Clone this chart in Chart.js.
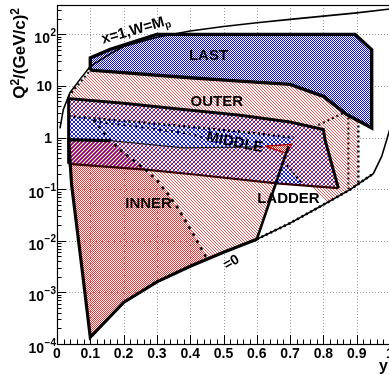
<!DOCTYPE html>
<html><head><meta charset="utf-8">
<script src="https://cdn.jsdelivr.net/npm/chart.js@4.4.1/dist/chart.umd.min.js"></script>
<style>
html,body{margin:0;padding:0;background:#fff;overflow:hidden;width:389px;height:375px}
#wrap{position:relative;width:391px;height:375px}
</style></head>
<body><div id="wrap"><canvas id="c" width="391" height="375"></canvas></div>
<script>
// ---------- tick values and labels ----------
const yTicks = [0,0.1,0.2,0.3,0.4,0.5,0.6,0.7,0.8,0.9,1];
const yTickLabels = ['0','0.1','0.2','0.3','0.4','0.5','0.6','0.7','0.8','0.9','1'];
const q2Decades = [1e-4,1e-3,1e-2,1e-1,1,10,100];
const q2TickBase = ['10','10','10','10','1','10','10'];
const q2TickExp = ['\u22124','\u22123','\u22122','\u22121','','','2'];
const regionNames = ['LAST','OUTER','MIDDLE','INNER','LADDER'];

// ---------- kinematic limits, points are [y, Q2 in (GeV/c)^2] ----------
const upperLimit = [[0.009,1.5],[0.019,3.5],[0.039,7.4],[0.069,13.4],[0.1,24],[0.16,42],[0.2,58],[0.3,88],[0.4,116],[0.5,142],[0.6,168],[0.7,195],[0.8,225],[0.9,260],[1.0,310]];
const lowerLimit = [[0.1,1.35e-4],[0.2,6.4e-4],[0.3,1.6e-3],[0.4,3.2e-3],[0.5,6e-3],[0.6,1.07e-2],[0.7,2.2e-2],[0.8,5e-2],[0.88,0.098],[0.95,0.2],[0.975,0.43],[0.99,0.9],[1.0,1.5]];

// ---------- trigger acceptance regions ----------
const lastRegion = [[0.1,20.2],[0.1,35],[0.16,51],[0.3,100],[0.895,100],[0.945,50],[0.945,1.54],[0.87,2.8],[0.8,6.3],[0.7,10.7],[0.55,12.4],[0.4,14.4],[0.1,20.2]];
const outerRegion = [[0.034,6.2],[0.1,20.2],[0.4,14.4],[0.55,12.4],[0.7,10.7],[0.8,6.3],[0.87,2.8],[0.905,2.15],[0.905,0.12],[0.88,0.098],[0.8,0.05],[0.7,0.022],[0.6,0.0107],[0.5,0.006],[0.45,0.0045],[0.405,0.015],[0.36,0.046],[0.33,0.085],[0.3,0.15],[0.265,0.24],[0.195,0.54],[0.16,0.87],[0.035,0.91],[0.034,6.2]];
const outerBandRegion = [[0.035,5.7],[0.2,4.6],[0.38,3.5],[0.55,2.7],[0.7,2.0],[0.8,1.43],[0.805,0.9],[0.845,0.105],[0.66,0.13],[0.42,0.19],[0.265,0.24],[0.035,0.31],[0.035,5.7]];
const innerRegion = [[0.035,0.91],[0.16,0.87],[0.195,0.54],[0.265,0.24],[0.3,0.15],[0.33,0.085],[0.36,0.046],[0.405,0.015],[0.45,0.0045],[0.4,3.2e-3],[0.3,1.6e-3],[0.2,6.4e-4],[0.1,1.35e-4],[0.07,0.0054],[0.044,0.12],[0.035,0.91]];
const middleRegion = [[0.035,2.6],[0.2,2.1],[0.38,1.66],[0.55,1.3],[0.71,1.0],[0.7,0.7],[0.62,0.66],[0.38,0.63],[0.16,0.87],[0.035,0.91],[0.035,2.6]];
const middleTip = [[0.625,0.68],[0.705,0.74],[0.688,0.5],[0.625,0.68]];
const ladderRegion = [[0.6,0.0107],[0.658,0.13],[0.76,0.118],[0.81,0.054],[0.7,0.022],[0.6,0.0107]];
const middleLow = [[0.658,0.13],[0.678,0.32],[0.74,0.12],[0.658,0.13]];

// ---------- border lines ----------
const innerEdge = [[0.16,0.87],[0.035,0.91],[0.044,0.12],[0.07,0.0054],[0.1,1.35e-4],[0.2,6.4e-4],[0.3,1.6e-3],[0.4,3.2e-3],[0.5,6e-3],[0.6,1.07e-2]];
const innerDiag = [[0.11,2.2],[0.16,0.87],[0.195,0.54],[0.265,0.24],[0.3,0.15],[0.33,0.085],[0.36,0.046],[0.405,0.015],[0.45,0.0045]];
const bandTopEdge = [[0.035,0.31],[0.035,5.7],[0.2,4.6],[0.38,3.5],[0.55,2.7],[0.7,2.0],[0.8,1.43],[0.805,0.9],[0.845,0.105]];
const bandLowEdge = [[0.845,0.105],[0.66,0.13],[0.42,0.19],[0.265,0.24],[0.035,0.31]];
const middleTop = [[0.035,2.6],[0.2,2.1],[0.38,1.66],[0.55,1.3],[0.71,1.0]];
const middleInner = [[0.11,2.05],[0.25,1.6],[0.39,1.21],[0.45,0.95]];
const middleLowEdge = [[0.16,0.87],[0.38,0.63],[0.62,0.66]];
const ladderEdge = [[0.6,0.0107],[0.695,0.67]];
const ladderFloor = [[0.6,0.0107],[0.7,0.022],[0.8,0.05],[0.88,0.098],[0.95,0.2]];
const middleLowDots = [[0.69,0.29],[0.74,0.12]];
const outerLeftDots = [[0.034,6.2],[0.1,20.2]];
const outerRightDots = [[0.905,2.15],[0.905,0.12]];
const outerInnerDots = [[0.785,1.75],[0.86,3.0],[0.875,2.6],[0.875,0.1]];

// ---------- patterns ----------
function pattern(size, bg, pixels){
  const c=document.createElement('canvas'); c.width=c.height=size;
  const g=c.getContext('2d');
  if(bg){g.fillStyle=bg;g.fillRect(0,0,size,size);}
  for(const [x,y,col] of pixels){g.fillStyle=col;g.fillRect(x,y,1,1);}
  return g.createPattern(c,'repeat');
}
const BLUE='rgb(30,30,235)', RED='rgb(240,50,50)';
const blueChecker = pattern(2,'#fff',[[0,0,'rgb(10,10,225)'],[1,1,'rgb(10,10,225)']]);
const redChecker = pattern(2,null,[[0,0,RED],[1,1,RED]]);
const redCheckerOpaque = pattern(2,'#fff',[[0,0,'rgb(230,30,30)'],[1,1,'rgb(230,30,30)']]);
const outerHatch = pattern(3,'#fff',[[0,0,'rgb(240,85,85)'],[1,1,'rgb(240,85,85)'],[2,2,'rgb(240,85,85)']]);
const bandHatch = pattern(4,null,[[0,0,RED],[1,1,RED],[2,2,RED],[3,3,RED],[0,3,BLUE],[1,2,BLUE],[2,1,BLUE],[3,0,BLUE]]);
const middleHatch = pattern(4,'#fff',[[0,0,BLUE],[1,1,BLUE],[2,2,BLUE],[3,3,BLUE],[0,3,BLUE],[1,2,BLUE],[2,1,BLUE],[3,0,BLUE]]);

const toXY = a => a.map(([x,y])=>({x,y}));
function poly(points,bg){return {data:toXY(points),fill:'shape',backgroundColor:bg,borderColor:'rgba(0,0,0,0)',borderWidth:0,pointRadius:0,tension:0};}
function line(points,color,width,dash){return {data:toXY(points),fill:false,borderColor:color,borderWidth:width,borderDash:dash||[],pointRadius:0,tension:0,borderCapStyle:'butt',borderJoinStyle:'miter'};}

// bottom to top
const layers = [
  poly(outerRegion,outerHatch),
  poly(outerBandRegion,'#fff'),
  poly(innerRegion,redChecker),
  poly(outerBandRegion,bandHatch),
  poly(middleRegion,middleHatch),
  poly(ladderRegion,'#fff'),
  poly(middleLow,middleHatch),
  poly(middleTip,redCheckerOpaque),
  poly(lastRegion,blueChecker),
  line(upperLimit,'#000',1.6),
  line(lowerLimit,'#000',1.6),
  line(ladderFloor,'#000',2.6,[2,3]),
  line(outerLeftDots,'#000',2,[2,3]),
  line(outerRightDots,'#000',2.4,[2,3]),
  line(outerInnerDots,'#000',2,[2,3]),
  line(middleLowEdge,'#222',1.2),
  line(middleTop,'#000',2.6,[2,3]),
  line(middleInner,'#000',2.2,[2,4]),
  line(middleLowDots,'#000',2.2,[2,3]),
  line(middleTip,'#a00',1.5),
  line(bandLowEdge,'#300',2.2),
  line(bandTopEdge,'#000',3),
  line(innerDiag,'#000',2.6,[3,5]),
  line(innerEdge,'#000',3.2),
  line(ladderEdge,'#000',2.6),
  line(lastRegion,'#000',3.4)
];
layers.forEach((d,i)=>{d.order = layers.length - i;});

const FONT='"Liberation Sans", Arial, Helvetica, sans-serif';

function rotText(ctx,parts,x,y,angle){
  ctx.save(); ctx.translate(x,y); ctx.rotate(angle);
  let w=0; const ws=[];
  for(const [t,s] of parts){ctx.font=`bold ${s}px ${FONT}`;const m=ctx.measureText(t).width;ws.push(m);w+=m;}
  let cx=-w/2;
  ctx.textBaseline='middle'; ctx.textAlign='left'; ctx.fillStyle='#000';
  parts.forEach(([t,s,dy],i)=>{ctx.font=`bold ${s}px ${FONT}`;ctx.fillText(t,cx,dy||0);cx+=ws[i];});
  ctx.restore();
}

const rootStyle = {
  id:'rootStyle',
  beforeDatasetsDraw(chart){
    const {ctx,chartArea:a,scales:{x,y}}=chart;
    ctx.save(); ctx.strokeStyle='#9a9a9a'; ctx.lineWidth=1; ctx.setLineDash([1,2]);
    yTicks.forEach(v=>{ if(v<=0||v>=1) return; const px=Math.round(x.getPixelForValue(v))+0.5; ctx.beginPath();ctx.moveTo(px,a.top);ctx.lineTo(px,a.bottom);ctx.stroke();});
    q2Decades.forEach(v=>{ if(v<=1e-4) return; const py=Math.round(y.getPixelForValue(v))+0.5; ctx.beginPath();ctx.moveTo(a.left,py);ctx.lineTo(a.right,py);ctx.stroke();});
    ctx.restore();
  },
  afterDatasetsDraw(chart){
    const {ctx,chartArea:a,scales:{x,y}}=chart;
    ctx.save();
    ctx.strokeStyle='#000'; ctx.lineWidth=1.2; ctx.setLineDash([]);
    ctx.strokeRect(Math.round(a.left)+0.5,Math.round(a.top)+0.5,Math.round(a.right-a.left),Math.round(a.bottom-a.top));
    ctx.lineWidth=1;
    for(let n=-4;n<=2;n++){
      for(let k=1;k<=9;k++){
        const v=k*Math.pow(10,n); if(v>y.max) break;
        const py=Math.round(y.getPixelForValue(v))+0.5;
        const len = k===1?9:4.5;
        ctx.beginPath();ctx.moveTo(a.left,py);ctx.lineTo(a.left+len,py);ctx.stroke();
      }
    }
    for(let i=0;i<=50;i++){
      const v=i/50; const px=Math.round(x.getPixelForValue(v))+0.5;
      const len = i%5===0?9:4.5;
      ctx.beginPath();ctx.moveTo(px,a.bottom);ctx.lineTo(px,a.bottom-len);ctx.stroke();
    }
    ctx.fillStyle='#000'; ctx.font=`bold 14px ${FONT}`; ctx.textAlign='center'; ctx.textBaseline='alphabetic';
    yTicks.forEach((v,i)=>{ctx.fillText(yTickLabels[i],x.getPixelForValue(v),358);});
    q2Decades.forEach((v,i)=>{
      const py=y.getPixelForValue(v); const base=q2TickBase[i], ex=q2TickExp[i];
      ctx.textAlign='left';
      ctx.font=`bold 14px ${FONT}`; const wb=ctx.measureText(base).width;
      ctx.font=`bold 10px ${FONT}`; const we=ex?ctx.measureText(ex).width+0.5:0;
      const right = ex?56:52; const x0=right-wb-we;
      ctx.font=`bold 14px ${FONT}`; ctx.fillText(base,x0,py+(ex?9:5));
      if(ex){ctx.font=`bold 10px ${FONT}`; ctx.fillText(ex,x0+wb+0.5,py+1.5);}
    });
    ctx.save(); ctx.translate(25,8); ctx.rotate(-Math.PI/2); ctx.textAlign='left'; ctx.textBaseline='alphabetic';
    const tparts=[['Q',17,0],['2',12,-6],['/(GeV/c)',17,0],['2',12,-6]];
    let tw=0; tparts.forEach(([t,s])=>{ctx.font=`bold ${s}px ${FONT}`;tw+=ctx.measureText(t).width;});
    let cx=-tw; tparts.forEach(([t,s,dy])=>{ctx.font=`bold ${s}px ${FONT}`;ctx.fillText(t,cx,dy);cx+=ctx.measureText(t).width;});
    ctx.restore();
    ctx.font=`bold 16px ${FONT}`; ctx.textAlign='right'; ctx.fillText('y',388,371);
    const X=v=>x.getPixelForValue(v), Y=v=>y.getPixelForValue(v);
    rotText(ctx,[[regionNames[0],15]],X(0.455),Y(38),0);
    rotText(ctx,[[regionNames[1],15]],X(0.48),Y(4.97),0);
    rotText(ctx,[[regionNames[2],15]],X(0.534),Y(0.80),0.2);
    rotText(ctx,[[regionNames[3],15]],X(0.275),Y(0.0516),0);
    rotText(ctx,[[regionNames[4],15]],X(0.695),Y(0.0645),0);
    rotText(ctx,[['=0',14]],X(0.524),Y(0.0038),-0.52);
    rotText(ctx,[['x=1,W=M',15,0],['p',10,4]],X(0.237),Y(121),-0.28);
    ctx.restore();
  }
};

new Chart(document.getElementById('c'),{
  type:'line',
  data:{datasets:layers},
  options:{
    responsive:false, animation:false, events:[],
    layout:{padding:{left:57,top:5,right:1,bottom:31}},
    plugins:{legend:{display:false},tooltip:{enabled:false}},
    scales:{
      x:{type:'linear',min:0,max:1,display:false},
      y:{type:'logarithmic',min:1e-4,max:370,display:false}
    }
  },
  plugins:[rootStyle]
});
</script></body></html>
